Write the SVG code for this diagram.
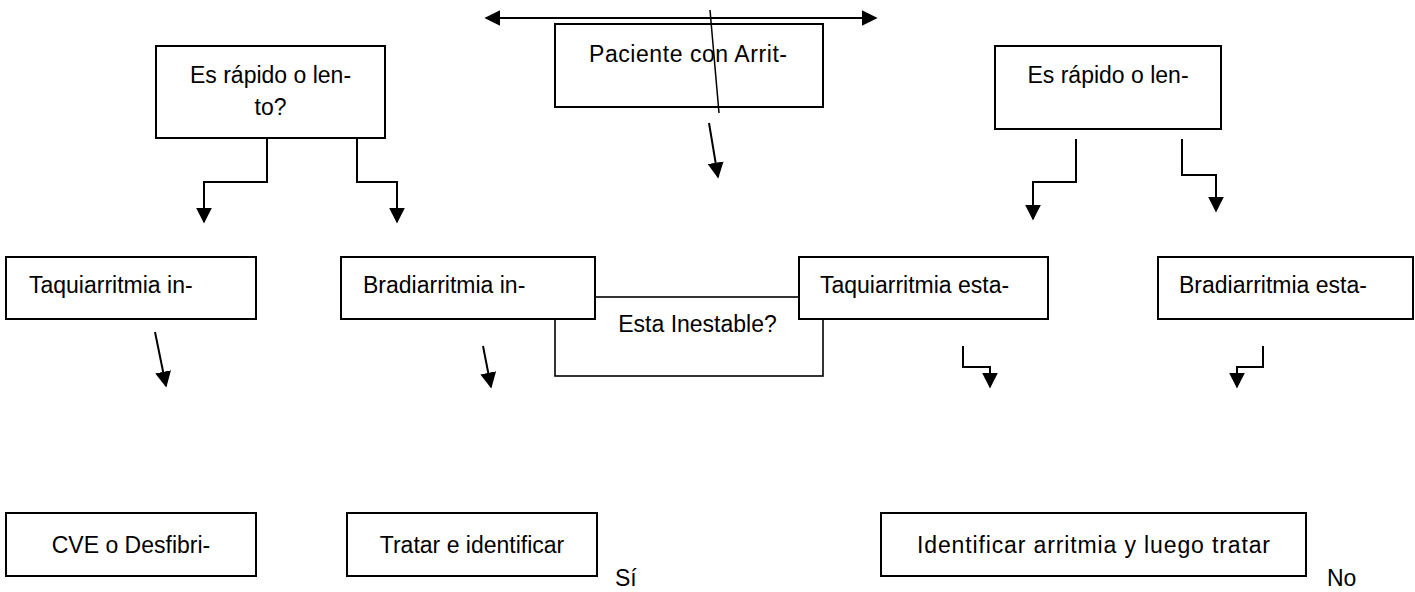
<svg xmlns="http://www.w3.org/2000/svg" width="1415" height="592" viewBox="0 0 1415 592">
<style>
.box{fill:#fff;stroke:#000;stroke-width:2}
.thin{fill:#fff;stroke:#000;stroke-width:1.6}
.t{font-family:"Liberation Sans",Arial,sans-serif;font-size:23px;fill:#000}
.c{text-anchor:middle}
.ln{fill:none;stroke:#000;stroke-width:2}
.arr{marker-end:url(#ah)}
</style>
<defs>
<marker id="ah" viewBox="0 0 10 10" refX="9" refY="5" markerWidth="16" markerHeight="16" markerUnits="userSpaceOnUse" orient="auto-start-reverse">
<path d="M0,0 L10,5 L0,10 Z" fill="#000"/>
</marker>
</defs>
<rect width="1415" height="592" fill="#fff"/>
<g id="n-inestable">
<rect class="thin" x="555" y="297" width="268" height="79"/>
<text class="t c" x="697.5" y="332">Esta Inestable?</text>
</g>
<g id="n-paciente">
<rect class="box" x="555" y="24" width="268" height="83"/>
<text class="t c" x="688" y="62" textLength="198" lengthAdjust="spacing">Paciente con Arrit-</text>
</g>
<g id="n-rapido-izq">
<rect class="box" x="156" y="46" width="229" height="92"/>
<text class="t c" x="270.5" y="83">Es rápido o len-</text>
<text class="t c" x="270.5" y="115">to?</text>
</g>
<g id="n-rapido-der">
<rect class="box" x="995" y="46" width="226" height="83"/>
<text class="t c" x="1108" y="83">Es rápido o len-</text>
</g>
<g id="n-taqui-in">
<rect class="box" x="6" y="257" width="250" height="62"/>
<text class="t" x="29" y="293">Taquiarritmia in-</text>
</g>
<g id="n-bradi-in">
<rect class="box" x="341" y="257" width="254" height="62"/>
<text class="t" x="363" y="293">Bradiarritmia in-</text>
</g>
<g id="n-taqui-esta">
<rect class="box" x="799" y="257" width="249" height="62"/>
<text class="t" x="820" y="293">Taquiarritmia esta-</text>
</g>
<g id="n-bradi-esta">
<rect class="box" x="1158" y="257" width="255" height="62"/>
<text class="t" x="1179" y="293">Bradiarritmia esta-</text>
</g>
<g id="n-cve">
<rect class="box" x="6" y="513" width="250" height="63"/>
<text class="t c" x="131" y="553">CVE o Desfibri-</text>
</g>
<g id="n-tratar">
<rect class="box" x="347" y="513" width="250" height="63"/>
<text class="t c" x="472" y="553">Tratar e identificar</text>
</g>
<g id="n-identificar">
<rect class="box" x="881" y="513" width="425" height="63"/>
<text class="t c" x="1093.5" y="553" textLength="353" lengthAdjust="spacing">Identificar arritmia y luego tratar</text>
</g>
<g id="l-si">
<text class="t" x="615" y="586">Sí</text>
</g>
<g id="l-no">
<text class="t" x="1327" y="586">No</text>
</g>
<g id="connectors">
<path class="ln" d="M486,18 H876" marker-start="url(#ah)" marker-end="url(#ah)"/>
<path class="ln" style="stroke-width:1.5" d="M710,10 L719,113"/>
<path class="ln arr" d="M709,123 L718,177"/>
<path class="ln arr" d="M267,138 V182 H204 V222"/>
<path class="ln arr" d="M357,138 V182 H397 V222"/>
<path class="ln arr" d="M1076,139 V182 H1033 V219"/>
<path class="ln arr" d="M1182,139 V175 H1216 V211"/>
<path class="ln arr" d="M155,332 L166,386"/>
<path class="ln arr" d="M483,346 L491,387"/>
<path class="ln arr" d="M963,346 V367 H990 V387"/>
<path class="ln arr" d="M1263,346 V367 H1237 V387"/>
</g>
</svg>
